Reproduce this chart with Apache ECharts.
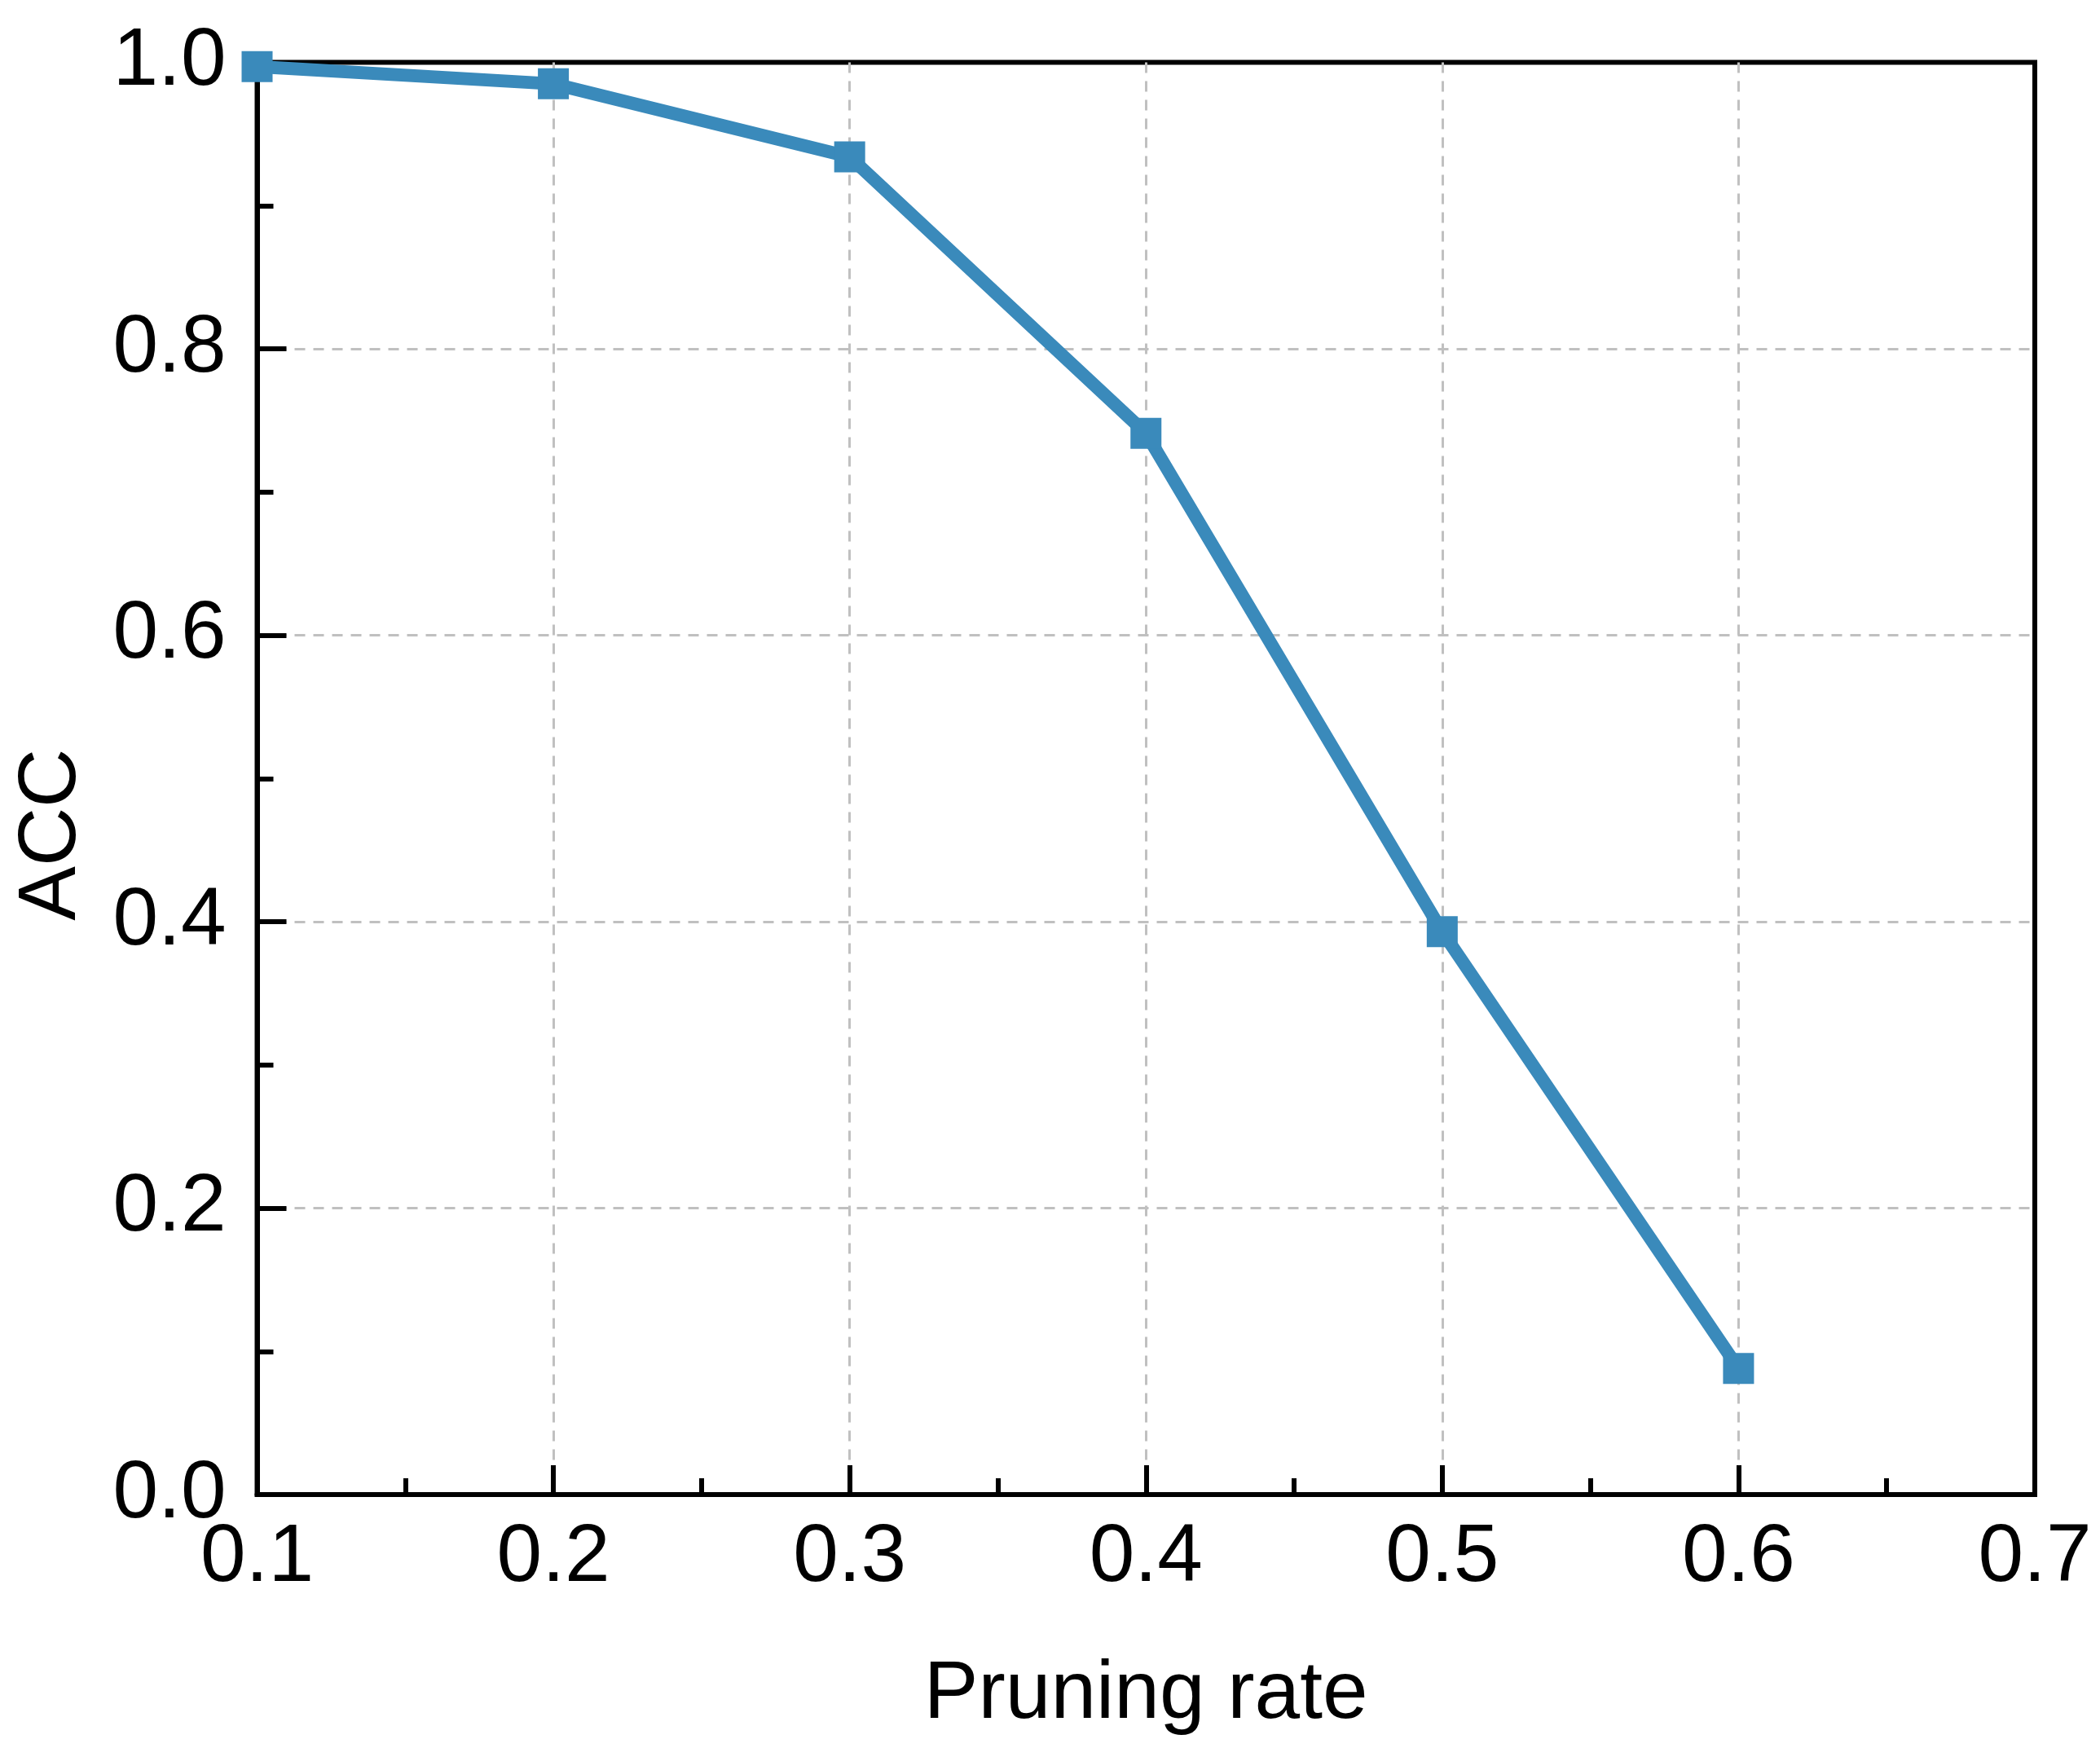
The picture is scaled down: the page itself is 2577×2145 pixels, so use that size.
<!DOCTYPE html>
<html>
<head>
<meta charset="utf-8">
<script src="https://cdn.jsdelivr.net/npm/echarts@6/dist/echarts.min.js"></script>
<style>
html,body{margin:0;padding:0;background:#fff;}
#chart{width:2577px;height:2145px;}
</style>
</head>
<body>
<div id="chart"></div>
<script>
// ---- data ----
var pruningRate = [0.1, 0.2, 0.3, 0.4, 0.5, 0.6];
var acc = [0.997, 0.985, 0.934, 0.741, 0.393, 0.088];
var xAxisTitle = 'Pruning rate';
var yAxisTitle = 'ACC';

var seriesData = pruningRate.map(function (x, i) { return [x, acc[i]]; });

var FONT = "'Liberation Sans', Arial, sans-serif";
var chart = echarts.init(document.getElementById('chart'), null, {renderer: 'canvas'});

var gridLine = {show: true, showMinLine: false, showMaxLine: false,
  lineStyle: {color: '#c0c0c0', width: 3, type: [13, 10]}};

chart.setOption({
  backgroundColor: '#ffffff',
  animation: false,
  grid: {left: 315.5, right: 80, top: 76.5, bottom: 311, show: true,
         borderColor: '#000', borderWidth: 6, backgroundColor: 'transparent'},
  xAxis: {
    type: 'value', min: 0.1, max: 0.7, interval: 0.1,
    name: xAxisTitle, nameLocation: 'middle', nameGap: 196,
    nameTextStyle: {fontFamily: FONT, fontSize: 100, color: '#000'},
    axisLine: {show: true, lineStyle: {color: '#000', width: 6}},
    axisTick: {show: true, inside: true, length: 36, lineStyle: {color: '#000', width: 6}},
    minorTick: {show: true, splitNumber: 2, length: 20, lineStyle: {color: '#000', width: 6}},
    axisLabel: {fontFamily: FONT, fontSize: 100, color: '#000', margin: 28,
      formatter: function (v) { return v.toFixed(1); }},
    splitLine: gridLine
  },
  yAxis: {
    type: 'value', min: 0, max: 1, interval: 0.2,
    name: yAxisTitle, nameLocation: 'middle', nameGap: 201, nameRotate: 90,
    nameTextStyle: {fontFamily: FONT, fontSize: 100, color: '#000', padding: [0, 138, 0, 0]},
    axisLine: {show: true, lineStyle: {color: '#000', width: 6}},
    axisTick: {show: true, inside: true, length: 36, lineStyle: {color: '#000', width: 6}},
    minorTick: {show: true, splitNumber: 2, length: 20, lineStyle: {color: '#000', width: 6}},
    axisLabel: {fontFamily: FONT, fontSize: 100, color: '#000', margin: 38,
      formatter: function (v) { return v.toFixed(1); }},
    splitLine: gridLine
  },
  series: [{
    type: 'line',
    data: seriesData,
    symbol: 'rect',
    symbolSize: 38,
    lineStyle: {color: '#3A8ABB', width: 16},
    itemStyle: {color: '#3A8ABB'},
    clip: true
  }]
});
</script>
</body>
</html>
